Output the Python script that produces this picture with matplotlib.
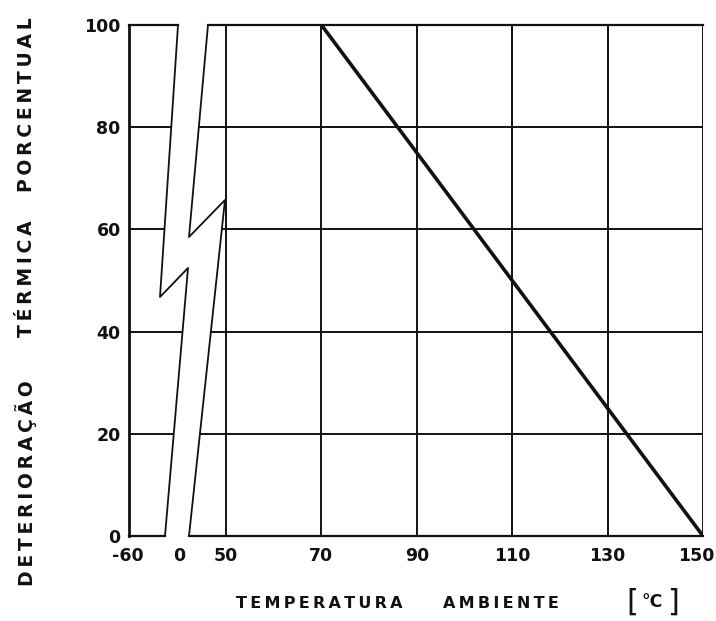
import matplotlib
matplotlib.use("Agg")
import matplotlib.pyplot as plt
from matplotlib.patches import Polygon
from matplotlib.transforms import ScaledTranslation

# data
line_temp = [70, 150]          # ambient temperature, degC
line_deterioration = [100, 0]  # thermal deterioration, %

x_tick_temps = [-60, 0, 50, 70, 90, 110, 130, 150]
x_tick_labels = ["-60", "0", "50", "70", "90", "110", "130", "150"]
y_ticks = [0, 20, 40, 60, 80, 100]
y_tick_labels = ["0", "20", "40", "60", "80", "100"]
v_grid_temps = [50, 70, 90, 110, 130, 150]
h_grid_values = [20, 40, 60, 80]

y_words = ["DETERIORAÇÃO", "TÉRMICA", "PORCENTUAL"]
x_words = ["TEMPERATURA", "AMBIENTE"]
x_unit = "°C"


def axis_pos(t):
    # below 50 degC the axis is squeezed into the broken part
    return t if t >= 50 else 50 + (t - 50) * 0.18


def spaced(s):
    return "\u2009".join(s)


ink = "#111111"
plt.rcParams["font.family"] = ["DejaVu Sans"]
plt.rcParams["font.weight"] = "bold"

fig = plt.figure(figsize=(7.16, 6.21), dpi=100)
ax = fig.add_axes([129 / 716, 85 / 621, 574 / 716, 511 / 621])
ax.set_xlim(29.66, 150)
ax.set_ylim(0, 100)

for t in v_grid_temps:
    ax.axvline(axis_pos(t), color=ink, lw=1.4, zorder=1)
for v in h_grid_values:
    ax.axhline(v, color=ink, lw=1.4, zorder=1)

ax.plot([axis_pos(t) for t in line_temp], line_deterioration,
        color=ink, lw=2.6, solid_capstyle="round", zorder=5)

# axis break (gap and zig-zag outlines), axes fraction
gap = [(0.0854, 1.0), (0.0540, 0.4677), (0.1028, 0.5245), (0.0627, 0.0),
       (0.1045, 0.0), (0.1672, 0.6575), (0.1103, 0.6575), (0.1376, 1.0)]
ax.add_patch(Polygon(gap, closed=True, facecolor="white", edgecolor="none",
                     transform=ax.transAxes, zorder=3))
left_edge = [(0.0854, 1.0), (0.0540, 0.4677), (0.1028, 0.5245), (0.0627, 0.0)]
right_edge = [(0.1376, 1.0), (0.1045, 0.5851), (0.1672, 0.6575), (0.1045, 0.0)]
for edge in (left_edge, right_edge):
    ax.plot([p[0] for p in edge], [p[1] for p in edge], color=ink, lw=1.3,
            transform=ax.transAxes, clip_on=False, zorder=4)

# frame pieces
for xs, y in [((0, 0.0854), 1), ((0.1376, 1), 1), ((0, 0.0627), 0), ((0.1045, 1), 0)]:
    ax.plot(xs, [y, y], color=ink, lw=1.6, transform=ax.transAxes,
            clip_on=False, zorder=4)
ax.spines["top"].set_visible(False)
ax.spines["bottom"].set_visible(False)
ax.spines["right"].set_visible(False)
ax.spines["left"].set_linewidth(2.0)
ax.spines["left"].set_color(ink)

ax.set_xticks([axis_pos(t) for t in x_tick_temps])
ax.set_xticklabels(x_tick_labels)
ax.set_yticks(y_ticks)
ax.set_yticklabels(y_tick_labels)
ax.tick_params(length=0, labelsize=12.5, colors=ink)
ax.tick_params(axis="x", pad=8)
ax.tick_params(axis="y", pad=6)
for lab in ax.get_xticklabels() + ax.get_yticklabels():
    lab.set_fontweight("bold")
# last label sits a little left of its line, as in the original
xl = ax.get_xticklabels()
xl[0].set_transform(xl[0].get_transform() + ScaledTranslation(-4 / 100, 0, fig.dpi_scale_trans))
xl[1].set_transform(xl[1].get_transform() + ScaledTranslation(-4 / 100, 0, fig.dpi_scale_trans))
xl[-1].set_transform(xl[-1].get_transform() + ScaledTranslation(-7 / 100, 0, fig.dpi_scale_trans))

# y label, word by word
for word, yc in zip(y_words, [483, 279, 105]):
    fig.text(26 / 716, 1 - yc / 621, spaced(word), rotation=90, ha="center",
             va="center", fontsize=13.5, fontweight="bold", color=ink)

# x label
for word, xc in zip(x_words, [319, 501]):
    fig.text(xc / 716, 1 - 604 / 621, spaced(word), ha="center", va="center",
             fontsize=11.5, fontweight="bold", color=ink)
fig.text(632 / 716, 1 - 602 / 621, "[", ha="center", va="center",
         fontsize=22, fontweight="normal", color=ink)
fig.text(652 / 716, 1 - 602 / 621, x_unit, ha="center", va="center",
         fontsize=12.5, fontweight="bold", color=ink)
fig.text(673 / 716, 1 - 602 / 621, "]", ha="center", va="center",
         fontsize=22, fontweight="normal", color=ink)

fig.savefig("out.png", dpi=100, facecolor="white")
